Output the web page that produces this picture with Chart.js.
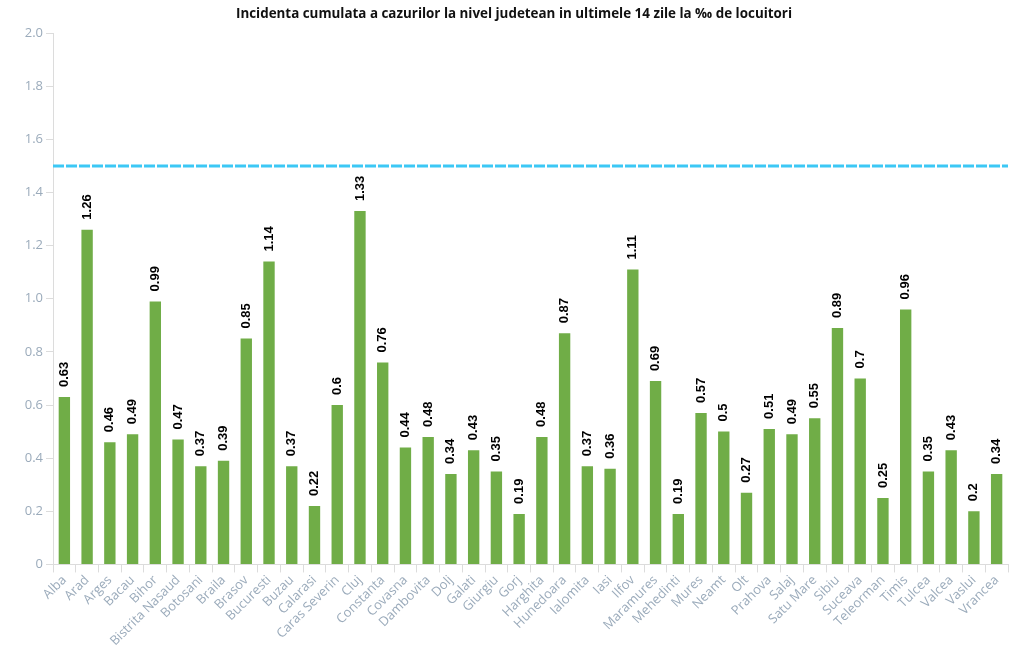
<!DOCTYPE html>
<html>
<head>
<meta charset="utf-8">
<script src="https://cdn.jsdelivr.net/npm/chart.js@4"></script>
<style>
  html, body { margin: 0; padding: 0; background: #fff; }
  #wrap { width: 1021px; height: 649px; }
</style>
</head>
<body>
<div id="wrap"><canvas id="incChart"></canvas></div>
<script>
const judete = ["Alba", "Arad", "Arges", "Bacau", "Bihor", "Bistrita Nasaud", "Botosani", "Braila", "Brasov", "Bucuresti",
    "Buzau", "Calarasi", "Caras Severin", "Cluj", "Constanta", "Covasna", "Dambovita", "Dolj", "Galati", "Giurgiu",
    "Gorj", "Harghita", "Hunedoara", "Ialomita", "Iasi", "Ilfov", "Maramures", "Mehedinti", "Mures", "Neamt",
    "Olt", "Prahova", "Salaj", "Satu Mare", "Sibiu", "Suceava", "Teleorman", "Timis", "Tulcea", "Valcea",
    "Vaslui", "Vrancea"];
const incidenta = [0.63, 1.26, 0.46, 0.49, 0.99, 0.47, 0.37, 0.39, 0.85, 1.14,
    0.37, 0.22, 0.6, 1.33, 0.76, 0.44, 0.48, 0.34, 0.43, 0.35,
    0.19, 0.48, 0.87, 0.37, 0.36, 1.11, 0.69, 0.19, 0.57, 0.5,
    0.27, 0.51, 0.49, 0.55, 0.89, 0.7, 0.25, 0.96, 0.35, 0.43,
    0.2, 0.34];
const prag = 1.5;
const yTicks = [0, 0.2, 0.4, 0.6, 0.8, 1.0, 1.2, 1.4, 1.6, 1.8, 2.0];

const tickColor = "#9babbb";

// dashed threshold line + rotated value labels
const extras = {
    id: "extras",
    afterDatasetsDraw(chart) {
        const ctx = chart.ctx;
        const area = chart.chartArea;
        const y = chart.scales.y.getPixelForValue(prag);
        ctx.save();
        ctx.strokeStyle = "#3cc8f5";
        ctx.lineWidth = 3;
        ctx.setLineDash([11, 2]);
        ctx.beginPath();
        ctx.moveTo(area.left, y);
        ctx.lineTo(area.right, y);
        ctx.stroke();
        ctx.restore();

        const meta = chart.getDatasetMeta(0);
        ctx.save();
        ctx.fillStyle = "#000";
        ctx.font = "bold 13px 'Liberation Sans', Arial, sans-serif";
        ctx.textAlign = "left";
        ctx.textBaseline = "middle";
        meta.data.forEach((bar, i) => {
            ctx.save();
            ctx.translate(bar.x, bar.y - 10);
            ctx.rotate(-Math.PI / 2);
            ctx.fillText(String(incidenta[i]), 0, 0);
            ctx.restore();
        });
        ctx.restore();
    }
};

new Chart(document.getElementById("incChart"), {
    type: "bar",
    data: {
        labels: judete,
        datasets: [{
            data: incidenta,
            backgroundColor: "#70ad47",
            borderWidth: 0,
            barPercentage: 0.5,
            categoryPercentage: 1.0
        }]
    },
    options: {
        responsive: true,
        maintainAspectRatio: false,
        animation: false,
        layout: { padding: { left: 20, right: 13, top: 0, bottom: 0 } },
        plugins: {
            legend: { display: false },
            tooltip: { enabled: false },
            title: {
                display: true,
                text: "Incidenta cumulata a cazurilor la nivel judetean in ultimele 14 zile la \u2030 de locuitori",
                color: "#111",
                font: { family: "'Open Sans'", size: 13.4, weight: "bold" },
                padding: { top: 6, bottom: 11 }
            }
        },
        scales: {
            x: {
                grid: { display: true, drawOnChartArea: false, offset: true, tickLength: 8, color: "#dcdcdc" },
                border: { color: "#dcdcdc" },
                ticks: {
                    color: tickColor,
                    font: { family: "'Open Sans'", size: 13 },
                    maxRotation: 45,
                    minRotation: 45,
                    autoSkip: false,
                    padding: 0
                }
            },
            y: {
                min: 0,
                max: 2.0,
                afterBuildTicks: axis => { axis.ticks = yTicks.map(v => ({ value: v })); },
                afterFit: axis => { axis.width = 33; },
                grid: { drawOnChartArea: false, drawTicks: true, tickLength: 7, color: "#dcdcdc" },
                border: { color: "#dcdcdc", dash: [6, 4] },
                ticks: {
                    color: tickColor,
                    font: { family: "'Open Sans'", size: 13 },
                    padding: 3,
                    callback: v => v === 0 ? "0" : v.toFixed(1)
                }
            }
        }
    },
    plugins: [extras]
});
</script>
</body>
</html>
